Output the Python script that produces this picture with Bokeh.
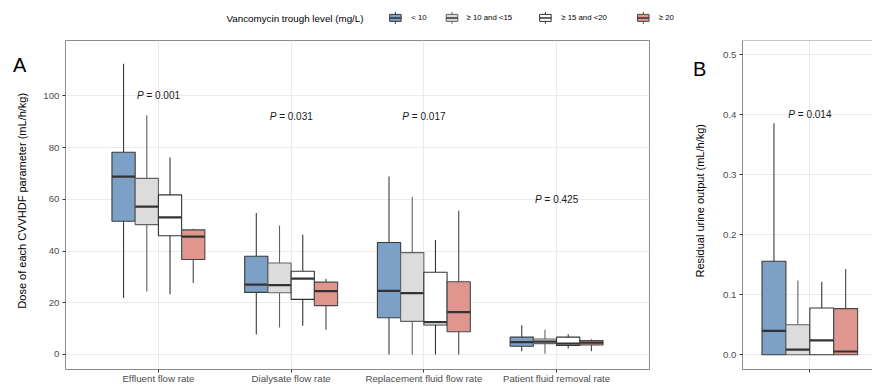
import math
from bokeh.plotting import figure
from bokeh.models import (ColumnDataSource, FactorRange, Range1d, FixedTicker,
                          Span, PrintfTickFormatter)
from bokeh.transform import dodge
from bokeh.layouts import column, row
from bokeh.embed import file_html
from bokeh.resources import INLINE
from bokeh.core.properties import value

FONT = "Liberation Sans"

# ---------------- data ----------------
categories = ["Effluent flow rate", "Dialysate flow rate",
              "Replacement fluid flow rate", "Patient fluid removal rate"]
groups = ["< 10", "\u2265 10 and  <15", "\u2265 15 and  <20", "\u2265 20"]
legend_title = "Vancomycin trough level  (mg/L)"
title_A = "Dose of each CVVHDF parameter (mL/h/kg)"
title_B = "Residual urine output (mL/h/kg)"

# Panel A: box statistics per trough-level group (order follows categories)
lt10_low = [21.8, 7.7, 0.0, 1.3]
lt10_q1 = [51.5, 24.0, 14.2, 3.2]
lt10_med = [68.8, 27.0, 24.6, 4.8]
lt10_q3 = [78.2, 38.0, 43.3, 6.7]
lt10_high = [112.4, 54.7, 68.8, 11.3]

g10_15_low = [24.4, 10.4, 0.0, 0.3]
g10_15_q1 = [50.2, 23.9, 12.8, 4.2]
g10_15_med = [57.2, 26.8, 23.7, 5.0]
g10_15_q3 = [68.1, 35.4, 39.4, 6.0]
g10_15_high = [92.5, 49.9, 60.9, 9.6]

g15_20_low = [23.3, 11.1, 0.0, 2.3]
g15_20_q1 = [45.9, 21.3, 11.4, 3.5]
g15_20_med = [53.0, 29.3, 12.5, 4.2]
g15_20_q3 = [61.7, 32.2, 31.8, 6.7]
g15_20_high = [76.2, 46.3, 44.3, 7.8]

ge20_low = [27.6, 9.6, 0.0, 1.3]
ge20_q1 = [36.7, 18.9, 8.8, 3.7]
ge20_med = [45.6, 24.5, 16.4, 4.6]
ge20_q3 = [48.2, 28.0, 28.1, 5.4]
ge20_high = [48.6, 29.3, 55.6, 5.9]

p_values_A = ["= 0.001", "= 0.031", "= 0.017", "= 0.425"]
p_y_A = [100, 92, 92, 60]

# Panel B: residual urine output, one box per group
urine_low = [0.0, 0.0, 0.0, 0.0]
urine_q1 = [0.0, 0.0, 0.0, 0.0]
urine_med = [0.040, 0.0085, 0.024, 0.0055]
urine_q3 = [0.156, 0.050, 0.078, 0.077]
urine_high = [0.386, 0.124, 0.122, 0.143]
p_value_B = "= 0.014"
p_y_B = 0.40

yticks_A = [0, 20, 40, 60, 80, 100]
yticks_B = [0.0, 0.1, 0.2, 0.3, 0.4, 0.5]

# ---------------- styles / layout ----------------
fill_colors = ["#7DA0C6", "#DCDCDC", "#FFFFFF", "#E0968F"]
line_colors = ["#3a3a3a", "#626262", "#333333", "#474747"]
median_color = "#333333"
border_color = "#8c8c8c"
grid_color = "#ebebeb"
tick_text = "#4d4d4d"

box_w_A = 0.175
offsets_A = [-1.5 * box_w_A, -0.5 * box_w_A, 0.5 * box_w_A, 1.5 * box_w_A]
box_w_B = 0.212
offsets_B = [-1.5 * box_w_B, -0.5 * box_w_B, 0.5 * box_w_B, 1.5 * box_w_B]

LEG_H = 32
ROW_H = 384 - LEG_H
TOP = 8
FRAME_H = 329
BOTTOM = ROW_H - TOP - FRAME_H
STRIP_A_W = 34
STRIP_B_W = 53


def style_axes(p):
    for ax in (p.xaxis[0], p.yaxis[0]):
        ax.major_label_text_font = FONT
        ax.major_label_text_color = tick_text
        ax.major_label_text_font_size = "9.7px"
        ax.major_tick_line_color = "#333333"
        ax.major_tick_out = 3
        ax.major_tick_in = 0
        ax.minor_tick_line_color = None
    p.xaxis.major_label_standoff = 0
    p.yaxis.major_label_standoff = 3
    p.xgrid.grid_line_color = grid_color
    p.ygrid.grid_line_color = grid_color
    p.background_fill_color = "white"
    p.border_fill_color = "white"


def text_strip(width, letter, letter_x, letter_base, title, title_x, title_cy):
    s = figure(width=width, height=ROW_H, x_range=Range1d(0, width), y_range=Range1d(0, ROW_H),
               min_border=0, output_backend="svg", toolbar_location=None)
    s.axis.visible = False
    s.grid.visible = False
    s.outline_line_color = None
    s.background_fill_color = "white"
    s.border_fill_color = "white"
    s.text(x=[letter_x], y=[ROW_H - letter_base], text=[letter], text_align="left",
           text_baseline="alphabetic", text_font=value(FONT), text_font_size="20px",
           text_color="#000000")
    s.text(x=[title_x], y=[ROW_H - title_cy], text=[title], angle=math.pi / 2,
           text_align="center", text_baseline="middle", text_font=value(FONT),
           text_font_size="11px", text_color="#000000")
    return s


# ---------------- panel A ----------------
pA = figure(x_range=FactorRange(*categories, range_padding=0.2, range_padding_units="absolute"),
            y_range=Range1d(-5.8, 121.4),
            frame_width=584, frame_height=FRAME_H,
            min_border_left=65 - STRIP_A_W, min_border_right=10,
            min_border_top=TOP, min_border_bottom=BOTTOM,
            output_backend="svg", toolbar_location=None)
pA.yaxis.ticker = FixedTicker(ticks=yticks_A)
style_axes(pA)
pA.xaxis.axis_line_color = None
pA.yaxis.axis_line_color = None
pA.outline_line_color = border_color
pA.outline_line_width = 1

stats_A = [
    (lt10_low, lt10_q1, lt10_med, lt10_q3, lt10_high),
    (g10_15_low, g10_15_q1, g10_15_med, g10_15_q3, g10_15_high),
    (g15_20_low, g15_20_q1, g15_20_med, g15_20_q3, g15_20_high),
    (ge20_low, ge20_q1, ge20_med, ge20_q3, ge20_high),
]

for i, (lo, q1, med, q3, hi) in enumerate(stats_A):
    src = ColumnDataSource(dict(cat=categories, low=lo, q1=q1, med=med, q3=q3, high=hi))
    off = offsets_A[i]
    pA.segment(x0=dodge("cat", off, range=pA.x_range), y0="q3",
               x1=dodge("cat", off, range=pA.x_range), y1="high",
               source=src, line_color=line_colors[i], line_width=1.1)
    pA.segment(x0=dodge("cat", off, range=pA.x_range), y0="q1",
               x1=dodge("cat", off, range=pA.x_range), y1="low",
               source=src, line_color=line_colors[i], line_width=1.1)
    pA.vbar(x=dodge("cat", off, range=pA.x_range), width=box_w_A, top="q3", bottom="q1",
            source=src, fill_color=fill_colors[i], line_color=line_colors[i], line_width=1.1)
    pA.segment(x0=dodge("cat", off - box_w_A / 2, range=pA.x_range), y0="med",
               x1=dodge("cat", off + box_w_A / 2, range=pA.x_range), y1="med",
               source=src, line_color=median_color, line_width=2.2)

psrc = ColumnDataSource(dict(cat=categories, y=p_y_A, t=p_values_A, p=["P"] * len(categories)))
pA.text(x=dodge("cat", 0, range=pA.x_range), y="y", text="p", source=psrc,
        x_offset=-21.5, text_align="left", text_baseline="middle",
        text_font=value(FONT), text_font_size="10px", text_font_style="italic",
        text_color="#1a1a1a")
pA.text(x=dodge("cat", 0, range=pA.x_range), y="y", text="t", source=psrc,
        x_offset=-12.0, text_align="left", text_baseline="middle",
        text_font=value(FONT), text_font_size="10px", text_color="#1a1a1a")

# ---------------- panel B ----------------
B_LEFT = 742 - 659 - STRIP_B_W
B_FRAME_W = 872 - 659 - STRIP_B_W - B_LEFT
pB = figure(x_range=Range1d(-0.597, 0.556), y_range=Range1d(-0.0245, 0.524),
            frame_width=B_FRAME_W, frame_height=FRAME_H,
            min_border_left=B_LEFT, min_border_right=0,
            min_border_top=TOP, min_border_bottom=BOTTOM,
            output_backend="svg", toolbar_location=None)
pB.yaxis.ticker = FixedTicker(ticks=yticks_B)
pB.yaxis.formatter = PrintfTickFormatter(format="%.1f")
pB.xaxis.ticker = FixedTicker(ticks=[0])
pB.xaxis.major_label_overrides = {0: " "}
style_axes(pB)
pB.outline_line_color = None
pB.xaxis.axis_line_color = border_color
pB.yaxis.axis_line_color = border_color
pB.add_layout(Span(location=0.524, dimension="width", line_color=border_color, line_width=1))

xB = [0 + o for o in offsets_B]
srcB = ColumnDataSource(dict(x=xB, low=urine_low, q1=urine_q1, med=urine_med, q3=urine_q3,
                             high=urine_high, fill=fill_colors, line=line_colors,
                             mx0=[x - box_w_B / 2 for x in xB], mx1=[x + box_w_B / 2 for x in xB]))
pB.segment(x0="x", y0="q3", x1="x", y1="high", source=srcB, line_color="line", line_width=1.1)
pB.segment(x0="x", y0="q1", x1="x", y1="low", source=srcB, line_color="line", line_width=1.1)
pB.vbar(x="x", width=box_w_B, top="q3", bottom="q1", source=srcB,
        fill_color="fill", line_color="line", line_width=1.1)
pB.segment(x0="mx0", y0="med", x1="mx1", y1="med", source=srcB,
           line_color=median_color, line_width=2.2)

pB.text(x=[0], y=[p_y_B], text=["P"], x_offset=-21.5, text_align="left", text_baseline="middle",
        text_font=value(FONT), text_font_size="10px", text_font_style="italic", text_color="#1a1a1a")
pB.text(x=[0], y=[p_y_B], text=[p_value_B], x_offset=-12.0, text_align="left",
        text_baseline="middle", text_font=value(FONT), text_font_size="10px", text_color="#1a1a1a")

# ---------------- letter / axis-title strips ----------------
frame_mid = TOP + FRAME_H / 2
sA = text_strip(STRIP_A_W, "A", 12.5, 26.5, title_A, 21, frame_mid)
sB = text_strip(STRIP_B_W, "B", 692.5 - 659, 30.3, title_B, 699.5 - 659, frame_mid)

# ---------------- legend strip ----------------
pL = figure(width=872, height=LEG_H, x_range=Range1d(0, 872), y_range=Range1d(LEG_H, 0),
            min_border=0, output_backend="svg", toolbar_location=None)
pL.axis.visible = False
pL.grid.visible = False
pL.outline_line_color = None
pL.background_fill_color = "white"
pL.border_fill_color = "white"

legend_key_x = [394.9, 451.5, 544.9, 642.8]
legend_label_x = [410.7, 466.0, 560.7, 658.3]
key_y = 17.4
key_w, key_h, whisk_h = 11.5, 7.0, 6.0

pL.text(x=[226], y=[18.4], text=[legend_title], text_align="left", text_baseline="middle",
        text_font=value(FONT), text_font_size="9.8px", text_color="#000000")
srcL = ColumnDataSource(dict(x=legend_key_x, lx=legend_label_x, y=[key_y] * 4,
                             ytop=[key_y - whisk_h] * 4, ybot=[key_y + whisk_h] * 4,
                             x0=[x - key_w / 2 for x in legend_key_x],
                             x1=[x + key_w / 2 for x in legend_key_x],
                             fill=fill_colors, line=line_colors, lab=groups))
pL.segment(x0="x", y0="ytop", x1="x", y1="ybot", source=srcL, line_color="line", line_width=1)
pL.rect(x="x", y="y", width=key_w, height=key_h, source=srcL,
        fill_color="fill", line_color="line", line_width=1)
pL.segment(x0="x0", y0="y", x1="x1", y1="y", source=srcL, line_color=median_color, line_width=1.5)
pL.text(x="lx", y="y", text="lab", source=srcL, text_align="left", text_baseline="middle",
        text_font=value(FONT), text_font_size="7.8px", text_color="#000000")

layout = column(pL, row(sA, pA, sB, pB, spacing=0), spacing=0)
open("out.html", "w").write(file_html(layout, INLINE))
